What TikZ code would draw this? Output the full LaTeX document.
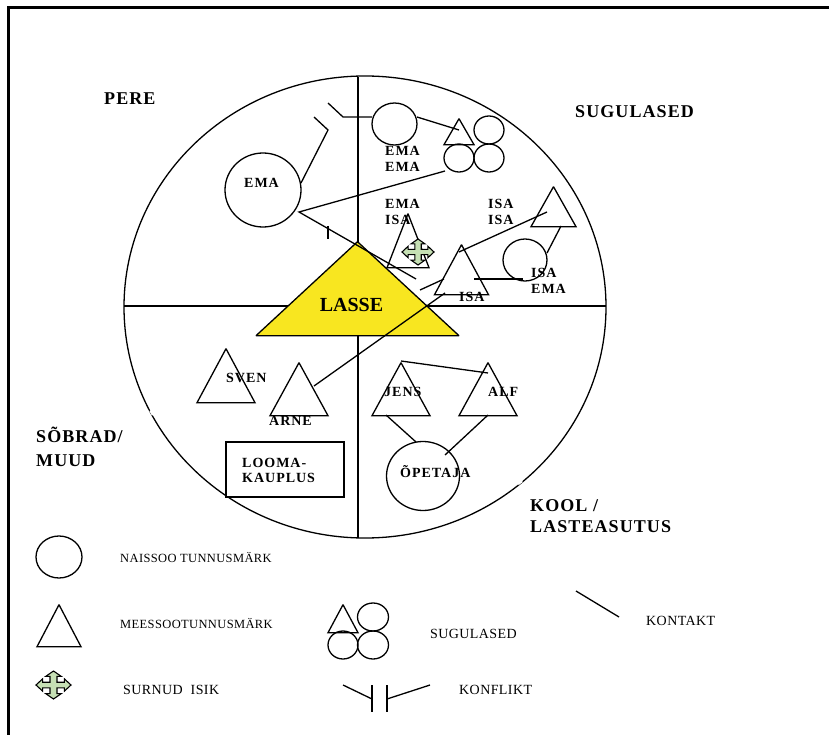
\documentclass[tikz,border=0pt]{standalone}
\usepackage{fontspec}
\setmainfont{Liberation Serif}
\usetikzlibrary{shapes.geometric}
\newcommand{\crossglyph}{(1,0) -- (.62,.44) -- (.62,.2) -- (.2,.2) -- (.2,.62) -- (.44,.62) -- (0,1) -- (-.44,.62) -- (-.2,.62) -- (-.2,.2) -- (-.62,.2) -- (-.62,.44) -- (-1,0) -- (-.62,-.44) -- (-.62,-.2) -- (-.2,-.2) -- (-.2,-.62) -- (-.44,-.62) -- (0,-1) -- (.44,-.62) -- (.2,-.62) -- (.2,-.2) -- (.62,-.2) -- (.62,-.44) -- cycle}
\tikzset{
  x=1pt,y=-1pt,
  line/.style={line width=1.3pt,black},
  oval/.style={draw,line width=1.3pt,ellipse,inner sep=0pt,minimum width=#1},
  tri/.style={draw,line width=1.3pt,isosceles triangle,isosceles triangle stretches,shape border rotate=90,inner sep=0pt,anchor=apex,miter limit=2},
  lab/.style={anchor=west,inner sep=0pt,text depth=0pt,text height=9pt,font=\fontsize{14}{16}\selectfont\bfseries\addfontfeature{LetterSpace=7}},
  head/.style={anchor=west,inner sep=0pt,text depth=0pt,text height=11pt,font=\fontsize{18}{20}\selectfont\bfseries\addfontfeature{LetterSpace=6}},
  plain/.style={anchor=west,inner sep=0pt,text depth=0pt,text height=9pt,font=\fontsize{14}{16}\selectfont\addfontfeature{LetterSpace=3}},
  small/.style={anchor=west,inner sep=0pt,text depth=0pt,text height=8pt,font=\fontsize{12.5}{14}\selectfont\addfontfeature{LetterSpace=3}},
  dead/.style={draw=black,fill=deadgreen,line width=1.1pt,line join=miter}
}
\definecolor{deadgreen}{RGB}{198,224,180}
\definecolor{lasseyellow}{RGB}{248,230,32}
\begin{document}
\begin{tikzpicture}
\useasboundingbox (0,0) rectangle (829,735);
% frame
\coordinate (fTop) at (8,8);
\coordinate (fBot) at (8,735);
\coordinate (fRight) at (829,8);
\draw[line width=3pt] (fBot) -- (fTop) -- (fRight);
% big circle and axes
\node[oval=482pt,minimum height=462pt] (big) at (365,307) {};
\draw[white,line width=2.5pt] (150.5,410.5) -- (153,415);
\draw[white,line width=2.5pt] (518,484) -- (522,481);
\draw[line] (357.9,77) -- (357.9,538);
\draw[line] (124,306) -- (606,306);
% shop box over the arc
\node[draw,line width=1.3pt,fill=white,minimum width=118pt,minimum height=55pt,inner sep=0pt] (shop) at (285,469.5) {};
% Lasse
\node[tri,fill=lasseyellow,draw=black,minimum width=203pt,minimum height=94pt] (lasse) at (357.5,240) {};
% circles
\node[oval=76pt,minimum height=74pt] (ema) at (263,190) {};
\node[oval=45pt,minimum height=42pt] (emaema) at (394.5,124) {};
\node[oval=44pt,minimum height=42pt] (isaema) at (525,260) {};
\node[oval=73pt,minimum height=69pt] (opetaja) at (423,476) {};
% relatives cluster
\node[tri,minimum width=30pt,minimum height=26pt] (kT) at (459,117) {};
\node[oval=30pt,minimum height=28pt] (k1) at (489,130) {};
\node[oval=30pt,minimum height=28pt] (k2) at (459,158) {};
\node[oval=30pt,minimum height=28pt] (k3) at (489,158) {};
% triangles
\node[tri,minimum width=42pt,minimum height=54pt] (emaisa) at (408,212) {};
\node[tri,minimum width=54pt,minimum height=50pt] (isa) at (461.5,243) {};
\node[tri,minimum width=45pt,minimum height=40pt] (isaisa) at (553.5,185) {};
\node[tri,minimum width=58pt,minimum height=54pt] (sven) at (226,347) {};
\node[tri,minimum width=58pt,minimum height=53pt] (arne) at (299,361) {};
\node[tri,minimum width=58pt,minimum height=53pt] (jens) at (401,361) {};
\node[tri,minimum width=58pt,minimum height=53pt] (alf) at (488,361) {};
% dead marker
\coordinate (deadA) at (418,252);
\draw[dead,shift={(deadA)},x=16pt,y=13pt] \crossglyph;
% free connector ends
\coordinate (c1) at (343,117); \coordinate (c2) at (328,103);
\coordinate (c3) at (328,130); \coordinate (c4) at (314,117);
\coordinate (c5) at (299,212); \coordinate (c6) at (416,279);
\coordinate (c7) at (445,171);
\coordinate (c8) at (328,226); \coordinate (c9) at (328,239);
\coordinate (c10) at (420,290); \coordinate (c11) at (444,279);
\coordinate (c12) at (459,252); \coordinate (c13) at (547,212);
\coordinate (c14) at (474,279); \coordinate (c15) at (523,279);
\coordinate (c16) at (445,293); \coordinate (c17) at (314,386);
\coordinate (c18) at (488,373);
\coordinate (c19) at (386,415); \coordinate (c20) at (416,442);
\coordinate (c21) at (488,415); \coordinate (c22) at (445,455);
\coordinate (c23) at (561,226); \coordinate (c24) at (547,253);
\coordinate (c25) at (417,117); \coordinate (c26) at (459,130);
\coordinate (c27) at (372,117); \coordinate (c28) at (301,183);
% connectors
\draw[line] (c27) -- (c1) -- (c2);
\draw[line] (c28) -- (c3) -- (c4);
\draw[line] (c25) -- (c26);
\draw[line] (c7) -- (c5) -- (c6);
\draw[line] (c8) -- (c9);
\draw[line] (c10) -- (c11);
\draw[line] (c12) -- (c13);
\draw[line] (c14) -- (c15);
\draw[line] (c16) -- (c17);
\draw[line] (jens.apex) -- (c18);
\draw[line] (c19) -- (c20);
\draw[line] (c21) -- (c22);
\draw[line] (c23) -- (c24);
% labels
\node[head] (lPere) at (104,99) {PERE};
\node[head] (lSug) at (575,112) {SUGULASED};
\node[head] (lSob) at (36,437) {SÕBRAD/};
\node[head] (lMuud) at (36,461) {MUUD};
\node[head] (lKool) at (530,506) {KOOL /};
\node[head] (lLast) at (530,527) {LASTEASUTUS};
\node[anchor=center,inner sep=0pt,font=\fontsize{20}{22}\selectfont\bfseries] (lLasse) at (351.5,305) {LASSE};
\node[lab] (t1) at (244,183) {EMA};
\node[lab] (t2) at (385,151) {EMA};
\node[lab] (t3) at (385,167) {EMA};
\node[lab] (t4) at (385,204) {EMA};
\node[lab] (t5) at (385,220) {ISA};
\node[lab] (t6) at (488,204) {ISA};
\node[lab] (t7) at (488,220) {ISA};
\node[lab] (t8) at (531,273) {ISA};
\node[lab] (t9) at (531,289) {EMA};
\node[lab] (t10) at (459,297) {ISA};
\node[lab] (t11) at (226,378) {SVEN};
\node[lab] (t12) at (269,421) {ARNE};
\node[lab] (t13) at (384,392) {JENS};
\node[lab] (t14) at (488,392) {ALF};
\node[lab] (t15) at (242,463) {LOOMA-};
\node[lab] (t16) at (242,478) {KAUPLUS};
\node[lab] (t17) at (400,473) {ÕPETAJA};
% legend
\node[oval=46pt,minimum height=42pt] (legC) at (59,557) {};
\node[tri,minimum width=44pt,minimum height=42pt] (legT) at (59,603) {};
\coordinate (legD) at (53.5,685);
\draw[dead,shift={(legD)},x=17.5pt,y=14pt] \crossglyph;
\node[tri,minimum width=30pt,minimum height=28pt] (legKT) at (343,603) {};
\node[oval=31pt,minimum height=28pt] (legK1) at (373,617) {};
\node[oval=30pt,minimum height=28pt] (legK2) at (343,645) {};
\node[oval=31pt,minimum height=28pt] (legK3) at (373,645) {};
\coordinate (k1) at (576,591); \coordinate (k2) at (619,617);
\draw[line] (k1) -- (k2);
\coordinate (f1) at (343,685); \coordinate (f2) at (372,699);
\coordinate (f3) at (372,685); \coordinate (f4) at (372,712);
\coordinate (f5) at (387,685); \coordinate (f6) at (387,712);
\coordinate (f7) at (387,699); \coordinate (f8) at (430,685);
\draw[line] (f1) -- (f2); \draw[line] (f3) -- (f4);
\draw[line] (f5) -- (f6); \draw[line] (f7) -- (f8);
\node[small] (n1) at (120,558) {NAISSOO TUNNUSMÄRK};
\node[small] (n2) at (120,624) {MEESSOOTUNNUSMÄRK};
\node[plain] (n3) at (123,690) {SURNUD\ \ ISIK};
\node[plain] (n4) at (430,634) {SUGULASED};
\node[plain] (n5) at (459,690) {KONFLIKT};
\node[plain] (n6) at (646,621) {KONTAKT};
\end{tikzpicture}
\end{document}
